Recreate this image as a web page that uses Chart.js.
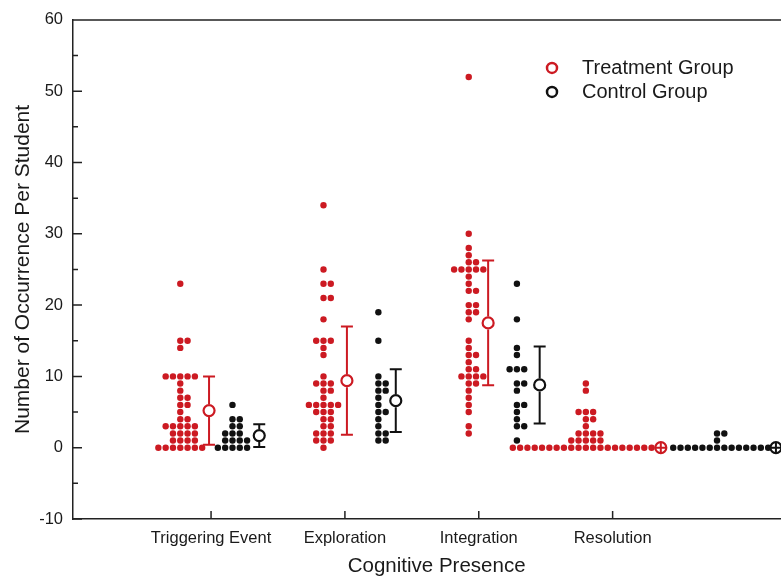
<!DOCTYPE html>
<html>
<head>
<meta charset="utf-8">
<script src="https://cdn.jsdelivr.net/npm/chart.js@4.4.0/dist/chart.umd.min.js"></script>
<style>
  html, body { margin: 0; padding: 0; background: #fff; overflow: hidden; }
  #wrap { width: 781px; height: 579px; overflow: hidden; position: relative; }
  #wrap canvas { position: absolute; left: 0; top: 0; }
</style>
</head>
<body>
<div id="wrap"><canvas id="chart" width="808" height="579"></canvas></div>
<script>
// categories on the x axis
const categories = ["Triggering Event", "Exploration", "Integration", "Resolution"];

// occurrences per student
const treatmentTriggering = [23, 15, 15, 14, 10, 10, 10, 10, 10, 9, 8, 7, 7, 6, 6, 5, 4, 4,
  3, 3, 3, 3, 3, 2, 2, 2, 2, 1, 1, 1, 1, 0, 0, 0, 0, 0, 0, 0];
const controlTriggering = [6, 4, 4, 3, 3, 2, 2, 2, 1, 1, 1, 1, 0, 0, 0, 0, 0];

const treatmentExploration = [34, 25, 23, 23, 21, 21, 18, 15, 15, 15, 14, 13, 10, 9, 9, 9, 8, 8,
  7, 6, 6, 6, 6, 6, 5, 5, 5, 4, 4, 3, 3, 2, 2, 2, 1, 1, 1, 0];
const controlExploration = [19, 15, 10, 9, 9, 8, 8, 7, 6, 5, 5, 4, 3, 2, 2, 1, 1];

const treatmentIntegration = [52, 30, 28, 27, 26, 26, 25, 25, 25, 25, 25, 24, 23, 22, 22, 20, 20,
  19, 19, 18, 15, 14, 13, 13, 12, 11, 11, 10, 10, 10, 10, 9, 9, 8, 7, 6, 5, 3, 2];
const controlIntegration = [23, 18, 14, 13, 11, 11, 11, 9, 9, 8, 6, 6, 5, 4, 3, 3, 1];

const treatmentResolution = [9, 8, 5, 5, 5, 4, 4, 3, 2, 2, 2, 2, 1, 1, 1, 1, 1,
  0, 0, 0, 0, 0, 0, 0, 0, 0, 0, 0, 0, 0, 0, 0, 0, 0, 0, 0, 0, 0];
const controlResolution = [2, 2, 1, 0, 0, 0, 0, 0, 0, 0, 0, 0, 0, 0, 0, 0, 0];

// group means and error bars as plotted
const treatmentMean = [5.2, 9.4, 17.5, 0];
const treatmentErr = [4.8, 7.6, 8.75, 0];
const controlMean = [1.7, 6.6, 8.8, 0];
const controlErr = [1.6, 4.4, 5.4, 0];

// y ticks
const yMin = -10, yMax = 60, yStep = 10;

// layout: horizontal offsets of each column from its category tick (category units)
const PX_PER_UNIT = 133.8;
const X_MIN = 1 - 138 / PX_PER_UNIT;
const X_MAX = X_MIN + 727 / PX_PER_UNIT;
const DOT_STEP = 7.3 / PX_PER_UNIT;
const swarmOffsetT = [-0.23, -0.16, -0.075, -0.2];
const meanOffsetT = [-0.015, 0.015, 0.07, 0.36];
const swarmOffsetC = [0.16, 0.25, 0.285, 0.78];
const meanOffsetC = [0.36, 0.38, 0.455, 1.22];

const RED = '#cc1a22';
const BLACK = '#111111';
const FONT = "'Liberation Sans', Arial, sans-serif";

function swarm(values, center) {
  const rows = {};
  return values.map(v => {
    const i = rows[v] = (rows[v] === undefined ? 0 : rows[v] + 1);
    const k = i === 0 ? 0 : (i % 2 ? (i + 1) / 2 : -i / 2);
    return { x: center + k * DOT_STEP, y: v };
  });
}

const treatmentGroups = [treatmentTriggering, treatmentExploration, treatmentIntegration, treatmentResolution];
const controlGroups = [controlTriggering, controlExploration, controlIntegration, controlResolution];

const treatmentDots = treatmentGroups.flatMap((g, i) => swarm(g, i + 1 + swarmOffsetT[i]));
const controlDots = controlGroups.flatMap((g, i) => swarm(g, i + 1 + swarmOffsetC[i]));
const treatmentMeanPts = treatmentMean.map((m, i) => ({ x: i + 1 + meanOffsetT[i], y: m }));
const controlMeanPts = controlMean.map((m, i) => ({ x: i + 1 + meanOffsetC[i], y: m }));

const MEAN_R = 5.5;

const errorBars = {
  id: 'errorBars',
  afterDatasetsDraw(chart) {
    const { ctx, scales: { x, y } } = chart;
    const sets = [
      [treatmentMeanPts, treatmentErr, RED],
      [controlMeanPts, controlErr, BLACK]
    ];
    ctx.save();
    ctx.lineWidth = 2;
    sets.forEach(([pts, errs, color]) => {
      ctx.strokeStyle = color;
      pts.forEach((p, i) => {
        const px = x.getPixelForValue(p.x);
        const pm = y.getPixelForValue(p.y);
        const r = MEAN_R + 1;
        ctx.beginPath();
        if (errs[i] > 0) {
          const ph = y.getPixelForValue(p.y + errs[i]);
          const pl = y.getPixelForValue(p.y - errs[i]);
          ctx.moveTo(px, ph); ctx.lineTo(px, pm - r);
          ctx.moveTo(px, pm + r); ctx.lineTo(px, pl);
          ctx.moveTo(px - 6, ph); ctx.lineTo(px + 6, ph);
          ctx.moveTo(px - 6, pl); ctx.lineTo(px + 6, pl);
        } else {
          ctx.moveTo(px, pm - MEAN_R); ctx.lineTo(px, pm + MEAN_R);
          ctx.moveTo(px - MEAN_R, pm); ctx.lineTo(px + MEAN_R, pm);
        }
        ctx.stroke();
      });
    });
    ctx.restore();
  }
};

const frame = {
  id: 'frame',
  afterDraw(chart) {
    const { ctx, chartArea: a, scales: { x, y } } = chart;
    ctx.save();
    ctx.strokeStyle = '#222';
    ctx.lineWidth = 1.5;
    ctx.beginPath();
    ctx.moveTo(a.left, a.top); ctx.lineTo(a.right, a.top);
    // inside ticks on y
    for (let v = yMin; v <= yMax; v += yStep / 2) {
      const py = y.getPixelForValue(v);
      const len = v % yStep === 0 ? 9 : 5;
      ctx.moveTo(a.left, py); ctx.lineTo(a.left + len, py);
    }
    // inside ticks on x
    categories.forEach((c, i) => {
      const px = x.getPixelForValue(i + 1);
      ctx.moveTo(px, a.bottom); ctx.lineTo(px, a.bottom - 8);
    });
    ctx.stroke();

    // legend
    const items = [['Treatment Group', RED], ['Control Group', BLACK]];
    ctx.font = "20px " + FONT;
    ctx.textBaseline = 'middle';
    ctx.lineWidth = 2.5;
    items.forEach(([label, color], i) => {
      const cy = a.top + 48 + i * 24;
      const cx = a.left + 479;
      ctx.strokeStyle = color;
      ctx.fillStyle = '#fff';
      ctx.beginPath();
      ctx.arc(cx, cy, 5, 0, Math.PI * 2);
      ctx.fill(); ctx.stroke();
      ctx.fillStyle = '#1a1a1a';
      ctx.fillText(label, cx + 30, cy + 1);
    });
    ctx.restore();
  }
};

new Chart(document.getElementById('chart'), {
  type: 'scatter',
  data: {
    datasets: [
      {
        label: 'Treatment Group mean', data: treatmentMeanPts,
        pointRadius: MEAN_R, pointBackgroundColor: '#fff', pointBorderColor: RED, pointBorderWidth: 2.2
      },
      {
        label: 'Control Group mean', data: controlMeanPts,
        pointRadius: MEAN_R, pointBackgroundColor: '#fff', pointBorderColor: BLACK, pointBorderWidth: 2.2
      },
      {
        label: 'Treatment Group', data: treatmentDots,
        pointRadius: 3.2, pointBackgroundColor: RED, pointBorderWidth: 0
      },
      {
        label: 'Control Group', data: controlDots,
        pointRadius: 3.2, pointBackgroundColor: BLACK, pointBorderWidth: 0
      }
    ]
  },
  options: {
    responsive: false,
    animation: false,
    layout: { padding: { top: 19, right: 0, bottom: 0, left: 0 } },
    plugins: { legend: { display: false }, tooltip: { enabled: false } },
    scales: {
      x: {
        type: 'linear', min: X_MIN, max: X_MAX,
        afterBuildTicks: s => { s.ticks = categories.map((c, i) => ({ value: i + 1 })); },
        afterFit: s => { s.height = 60; },
        ticks: {
          autoSkip: false, maxRotation: 0, padding: 10, color: '#1a1a1a',
          font: { family: FONT, size: 16.5 },
          callback: v => categories[v - 1]
        },
        grid: { drawOnChartArea: false, drawTicks: false },
        border: { color: '#222', width: 1.5 },
        title: {
          display: true, text: 'Cognitive Presence', color: '#1a1a1a',
          font: { family: FONT, size: 20.5, lineHeight: 1.2 }, padding: { top: 0, bottom: 0 }
        }
      },
      y: {
        min: yMin, max: yMax,
        afterFit: s => { s.width = 73; },
        ticks: { stepSize: yStep, padding: 10, color: '#1a1a1a', font: { family: FONT, size: 16.5 } },
        grid: { drawOnChartArea: false, drawTicks: false },
        border: { color: '#222', width: 1.5 },
        title: {
          display: true, text: 'Number of Occurrence Per Student', color: '#1a1a1a',
          font: { family: FONT, size: 21, lineHeight: 1.2 }, padding: { top: 11, bottom: 0 }
        }
      }
    }
  },
  plugins: [errorBars, frame]
});
</script>
</body>
</html>
